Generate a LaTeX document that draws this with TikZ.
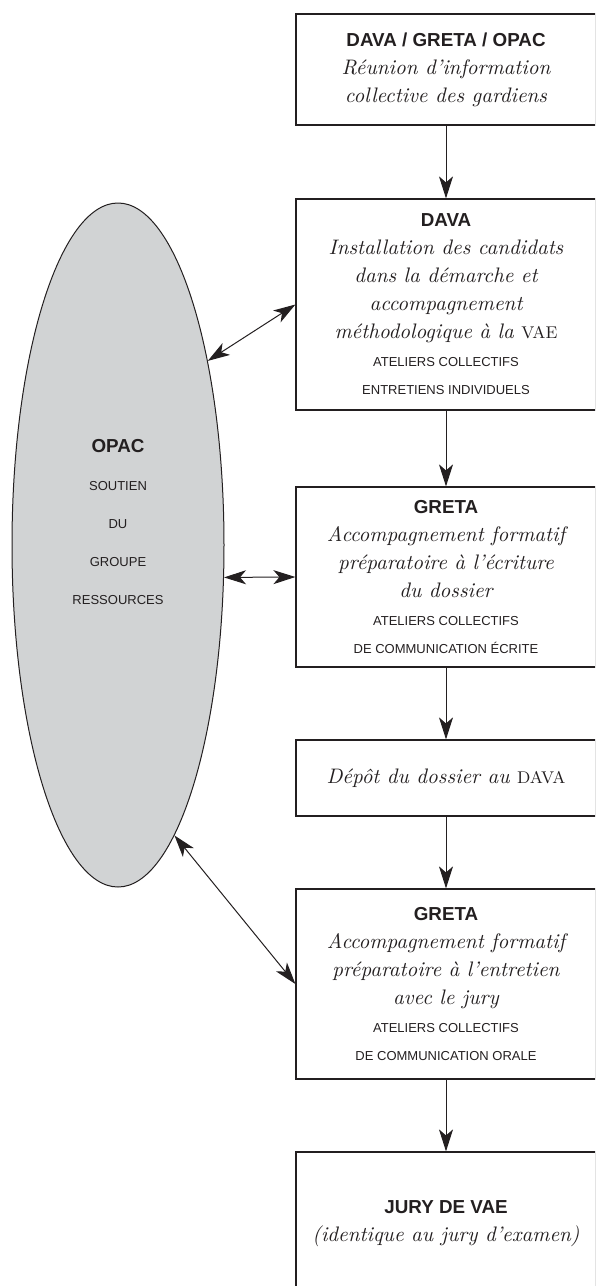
\documentclass[tikz,border=0pt]{standalone}
\usepackage{fontspec}
\newfontfamily\sansnom{Liberation Sans}
\usetikzlibrary{shapes.geometric, arrows.meta}
\definecolor{TraitNoir}{HTML}{231F20}
\definecolor{GrisOpac}{HTML}{D1D3D4}
\newcommand{\acteur}[1]{{\sansnom\upshape\bfseries\fontsize{9.4}{14}\selectfont #1}}
\newcommand{\modalite}[1]{{\sansnom\upshape\fontsize{6.5}{14}\selectfont #1}}
\newcommand{\sigle}[1]{{\upshape\fontsize{8.5}{14}\selectfont #1}}

\begin{document}
\begin{tikzpicture}[x=0.5pt, y=0.5pt,
    etape/.style={draw=TraitNoir, line width=0.6pt, minimum width=150pt, inner sep=0pt,
      align=center, text=TraitNoir, font=\fontsize{10.5}{14}\selectfont\itshape},
    fleche/.style={-{Stealth[length=11pt, width=7pt, inset=3pt]}, draw=TraitNoir, line width=0.5pt},
    echange/.style={{Stealth[length=11pt, width=7pt, inset=3pt]}-{Stealth[length=11pt, width=7pt, inset=3pt]},
      draw=TraitNoir, line width=0.5pt}]
  \clip (0,0) rectangle (595,-1286);

  % Groupe ressources
  \node[ellipse, draw=TraitNoir, fill=GrisOpac, line width=0.5pt, inner sep=0pt,
    minimum width=106pt, minimum height=342pt] (opac) at (118,-545) {};
  \node[align=center, text=TraitNoir, font=\sansnom\fontsize{6.5}{19}\selectfont] (opacnom) at (118,-521.5)
    {\acteur{OPAC}\\ SOUTIEN\\ DU\\ GROUPE\\ RESSOURCES};

  % Etapes du parcours
  \node[etape, minimum height=55.5pt] (reunion) at (446,-69.5)
    {\acteur{DAVA / GRETA / OPAC}\\ Réunion d'information\\ collective des gardiens};
  \node[etape, minimum height=105.5pt] (installation) at (446,-304.5)
    {\acteur{DAVA}\\ Installation des candidats\\ dans la démarche et\\ accompagnement\\
     méthodologique à la \sigle{VAE}\\ \modalite{ATELIERS COLLECTIFS}\\ \modalite{ENTRETIENS INDIVIDUELS}};
  \node[etape, minimum height=90pt] (ecrit) at (446,-577)
    {\acteur{GRETA}\\ Accompagnement formatif\\ préparatoire à l'écriture\\ du dossier\\
     \modalite{ATELIERS COLLECTIFS}\\ \modalite{DE COMMUNICATION ÉCRITE}};
  \node[etape, minimum height=38pt] (depot) at (446,-778)
    {Dépôt du dossier au \sigle{DAVA}};
  \node[etape, minimum height=95pt] (oral) at (446,-984)
    {\acteur{GRETA}\\ Accompagnement formatif\\ préparatoire à l'entretien\\ avec le jury\\
     \modalite{ATELIERS COLLECTIFS}\\ \modalite{DE COMMUNICATION ORALE}};
  \node[etape, minimum height=72pt] (jury) at (446,-1224)
    {\acteur{JURY DE VAE}\\ (identique au jury d'examen)};

  % Enchainement
  \draw[fleche] (reunion) -- (installation);
  \draw[fleche] (installation) -- (ecrit);
  \draw[fleche] (ecrit) -- (depot);
  \draw[fleche] (depot) -- (oral);
  \draw[fleche] (oral) -- (jury);

  % Soutien OPAC
  \draw[echange] (opac.64) -- (installation.west);
  \draw[echange] (opac.-17) -- (ecrit.west);
  \draw[echange] (opac.-79.5) -- (oral.west);
\end{tikzpicture}
\end{document}
